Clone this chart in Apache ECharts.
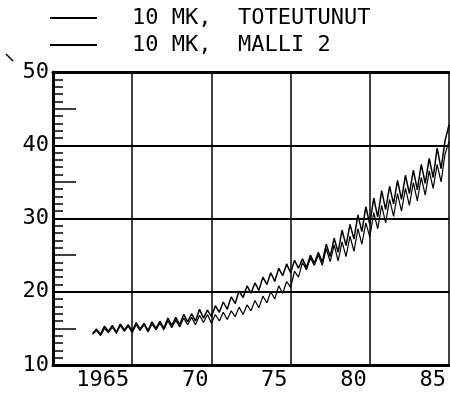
<!DOCTYPE html>
<html>
<head>
<meta charset="utf-8">
<script src="https://cdn.jsdelivr.net/npm/echarts@6/dist/echarts.min.js"></script>
<style>
  html, body { margin: 0; padding: 0; background: #fff; }
  #chart { width: 450px; height: 394px; }
</style>
</head>
<body>
<div id="chart"></div>
<script>
// series names (legend)
const seriesNames = ['10 MK,  TOTEUTUNUT', '10 MK,  MALLI 2']

// quarterly observations, first one at 1962 Q3
const startYear = 1962.5
const quarterStep = 0.25

// toteutunut
const actual = [
  14.3, 14.9,
  14.2, 15.3, 14.6, 15.4,
  14.5, 15.6, 14.8, 15.5,
  14.6, 15.8, 14.9, 15.7,
  14.7, 15.9, 15.0, 16.0,
  15.0, 16.4, 15.4, 16.5,
  15.5, 16.9, 15.9, 17.0,
  16.0, 17.6, 16.4, 17.5,
  16.6, 18.1, 17.2, 18.6,
  17.6, 19.3, 18.4, 20.1,
  19.2, 20.8, 19.8, 21.2,
  20.2, 22.0, 21.0, 22.6,
  21.4, 23.2, 22.2, 23.8,
  22.6, 24.3, 23.2, 24.5,
  23.3, 25.0, 23.9, 25.4,
  24.0, 26.5, 24.8, 27.3,
  25.4, 28.4, 26.3, 29.2,
  27.2, 30.5, 28.2, 31.6,
  29.2, 32.8, 30.2, 33.8,
  31.2, 34.4, 32.0, 35.2,
  32.6, 35.9, 33.4, 36.6,
  33.9, 37.4, 34.8, 38.2,
  35.6, 39.6, 36.8, 40.6,
  42.8
]

// malli 2
const model = [
  14.2, 14.7,
  14.0, 15.0, 14.4, 15.2,
  14.3, 15.4, 14.6, 15.3,
  14.4, 15.5, 14.7, 15.5,
  14.5, 15.6, 14.8, 15.7,
  14.8, 16.0, 15.1, 16.1,
  15.2, 16.4, 15.5, 16.5,
  15.5, 16.8, 15.8, 16.9,
  15.7, 16.9, 16.0, 17.2,
  16.2, 17.4, 16.6, 17.9,
  16.9, 18.2, 17.4, 18.8,
  17.8, 19.4, 18.5, 20.0,
  19.0, 20.8, 19.8, 21.4,
  20.6, 22.8, 22.0, 24.0,
  23.0, 24.6, 23.6, 25.0,
  23.6, 25.9, 24.1, 26.4,
  24.2, 26.8, 24.8, 27.6,
  25.5, 28.6, 26.5, 29.4,
  27.5, 30.8, 28.6, 31.8,
  29.4, 32.6, 30.3, 33.4,
  31.0, 34.1, 31.8, 34.9,
  32.4, 35.6, 33.2, 36.5,
  34.1, 37.4, 35.0, 38.8,
  40.5
]

// x tick labels, one per 5 years from 1960
const xTickValues = [1960, 1965, 1970, 1975, 1980, 1985]
const xTickLabels = ['', '1965', '70', '75', '80', '85']

const FONT = '"DejaVu Sans Mono", monospace'

const toPairs = arr => arr.map((v, i) => [startYear + i * quarterStep, v])

const chart = echarts.init(document.getElementById('chart'))

const option = {
  animation: false,
  backgroundColor: '#fff',
  textStyle: { fontFamily: FONT, color: '#000' },
  legend: {
    orient: 'vertical',
    left: 45,
    top: 2,
    itemWidth: 47,
    itemHeight: 2,
    itemGap: 5,
    icon: 'rect',
    textStyle: { fontFamily: FONT, fontSize: 22, color: '#000', padding: [0, 0, 0, 30] },
    data: seriesNames
  },
  grid: { left: 53, right: 1, top: 72, bottom: 29 },
  xAxis: [
    {
      type: 'value',
      min: 1960,
      max: 1985,
      interval: 5,
      axisLine: { lineStyle: { color: '#000', width: 3 } },
      axisTick: { show: false },
      axisLabel: {
        fontFamily: FONT,
        fontSize: 22,
        color: '#000',
        align: 'right',
        margin: 4,
        padding: [0, 3, 0, 0],
        showMinLabel: true,
        showMaxLabel: true,
        formatter: v => xTickLabels[xTickValues.indexOf(Math.round(v))] || ''
      },
      splitLine: { show: true, lineStyle: { color: '#000', width: 1.5 } }
    },
    {
      type: 'value',
      position: 'top',
      min: 1960,
      max: 1985,
      interval: 5,
      axisLine: { show: true, lineStyle: { color: '#000', width: 3 } },
      axisTick: { show: false },
      axisLabel: { show: false },
      splitLine: { show: false }
    }
  ],
  yAxis: [
    {
      type: 'value',
      min: 10,
      max: 50,
      interval: 10,
      axisLine: { show: true, lineStyle: { color: '#000', width: 3 } },
      axisTick: { show: true, inside: true, length: 10, lineStyle: { color: '#000', width: 1.5 } },
      minorTick: { show: true, splitNumber: 10, length: 10, lineStyle: { color: '#000', width: 1.5 } },
      axisLabel: { fontFamily: FONT, fontSize: 22, color: '#000', margin: 4 },
      splitLine: { show: true, lineStyle: { color: '#000', width: 2 } }
    },
    {
      // longer ticks every 5 units
      type: 'value',
      position: 'left',
      min: 10,
      max: 50,
      interval: 5,
      axisLine: { show: false },
      axisTick: { show: true, inside: true, length: 23, lineStyle: { color: '#000', width: 1.5 } },
      axisLabel: { show: false },
      splitLine: { show: false }
    }
  ],
  series: [
    {
      name: seriesNames[0],
      type: 'line',
      symbol: 'none',
      data: toPairs(actual),
      itemStyle: { color: '#000' },
      lineStyle: { color: '#000', width: 1.5 },
      z: 3
    },
    {
      name: seriesNames[1],
      type: 'line',
      symbol: 'none',
      data: toPairs(model),
      itemStyle: { color: '#000' },
      lineStyle: { color: '#000', width: 1.2 },
      z: 3
    }
  ],
  graphic: [
    {
      // pieni merkki vasemmassa yläkulmassa
      type: 'line',
      shape: { x1: 6, y1: 54, x2: 13, y2: 61 },
      style: { stroke: '#000', lineWidth: 1.5 }
    }
  ]
}

chart.setOption(option)
</script>
</body>
</html>
